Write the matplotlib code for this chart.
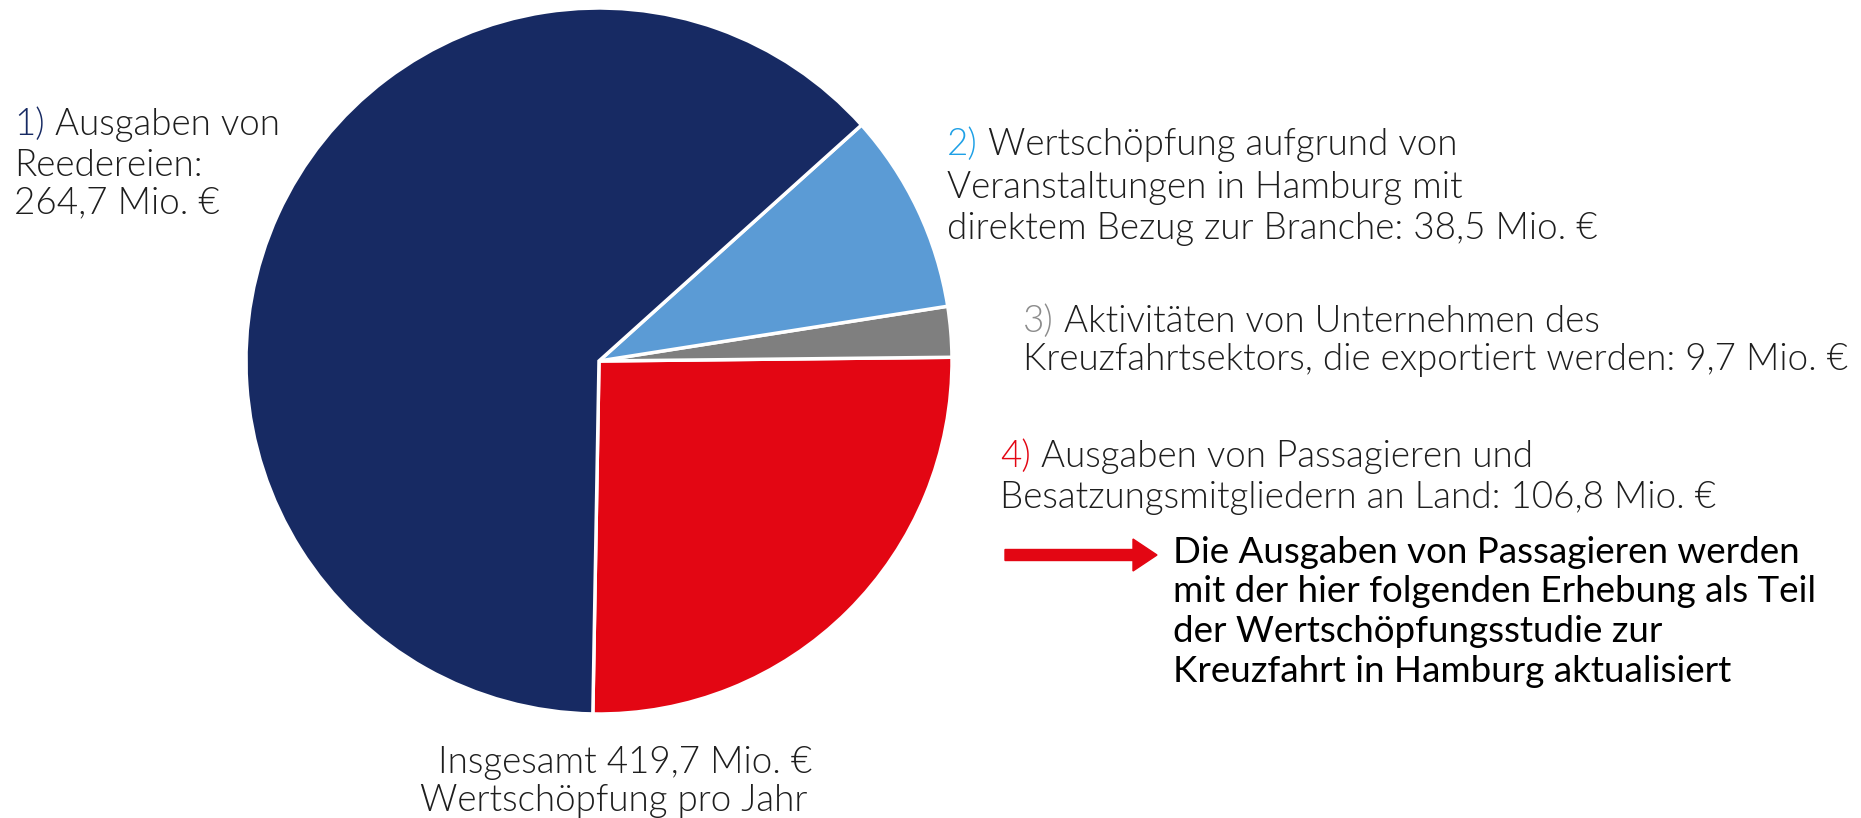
import matplotlib
matplotlib.use('Agg')
import matplotlib.pyplot as plt

# values in Mio. EUR, drawn counterclockwise starting at the bottom
segments = ['Passagiere/Besatzung', 'Export', 'Veranstaltungen', 'Reedereien']
values = [106.8, 9.7, 38.5, 264.7]
colors = ['#e30613', '#7f7f7f', '#5b9bd5', '#172a63']

W, H = 1861, 818
plt.rcParams['font.family'] = ['Lato', 'DejaVu Sans']
TXT = '#1e1e1e'
FS = 26.5

fig = plt.figure(figsize=(W / 100, H / 100), dpi=100)

# pie axes: center (599, 361) px, radius 353 px
cx, cy, r = 599, 361, 353
ax = fig.add_axes([(cx - r) / W, (H - cy - r) / H, 2 * r / W, 2 * r / H])
ax.pie(values, colors=colors, startangle=-91, counterclock=True,
       wedgeprops=dict(edgecolor='white', linewidth=2.5))
ax.set_xlim(-1, 1)
ax.set_ylim(-1, 1)
ax.set_aspect('equal')
ax.axis('off')


def line(x, y, s, color=TXT, **kw):
    # x, y in pixels from the top-left corner, y = baseline
    return fig.text(x / W, 1 - y / H, s, color=color, fontsize=kw.pop('fontsize', FS),
                    va='baseline', ha=kw.pop('ha', 'left'), fontweight=kw.pop('weight', 300), **kw)


def numbered(x, y, num, numcolor, rest):
    t = line(x, y, num, color=numcolor)
    return plt.annotate(' ' + rest, xy=(1, 0), xycoords=t, va='bottom', ha='left',
                        fontsize=FS, color=TXT, fontweight=300)


label_lines = [
    (14, [135, 176, 213], '1)', '#172a63',
     ['Ausgaben von', 'Reedereien:', '264,7 Mio. €']),
    (947, [155, 198, 239], '2)', '#1ea0e6',
     ['Wertschöpfung aufgrund von', 'Veranstaltungen in Hamburg mit',
      'direktem Bezug zur Branche: 38,5 Mio. €']),
    (1023, [332, 370], '3)', '#8c8c8c',
     ['Aktivitäten von Unternehmen des',
      'Kreuzfahrtsektors, die exportiert werden: 9,7 Mio. €']),
    (1000, [467, 508], '4)', '#e30613',
     ['Ausgaben von Passagieren und',
      'Besatzungsmitgliedern an Land: 106,8 Mio. €']),
]

for x, ys, num, nc, texts in label_lines:
    numbered(x, ys[0], num, nc, texts[0])
    for y, s in zip(ys[1:], texts[1:]):
        line(x, y, s)

# total below the pie
line(625, 773, 'Insgesamt 419,7 Mio. €', ha='center')
line(614, 811, 'Wertschöpfung pro Jahr', ha='center')

# red arrow + note
fig.patches.append(matplotlib.patches.FancyArrow(
    1005 / W, 1 - 555 / H, 152 / W, 0, width=11 / H, head_width=32 / H,
    head_length=24 / W, length_includes_head=True, color='#e30613',
    transform=fig.transFigure, figure=fig))

note = ['Die Ausgaben von Passagieren werden', 'mit der hier folgenden Erhebung als Teil',
        'der Wertschöpfungsstudie zur', 'Kreuzfahrt in Hamburg aktualisiert']
for i, s in enumerate(note):
    line(1173, 563 + i * 39.5, s, color='black', weight='normal')

fig.savefig('out.png', dpi=100, facecolor='white')
